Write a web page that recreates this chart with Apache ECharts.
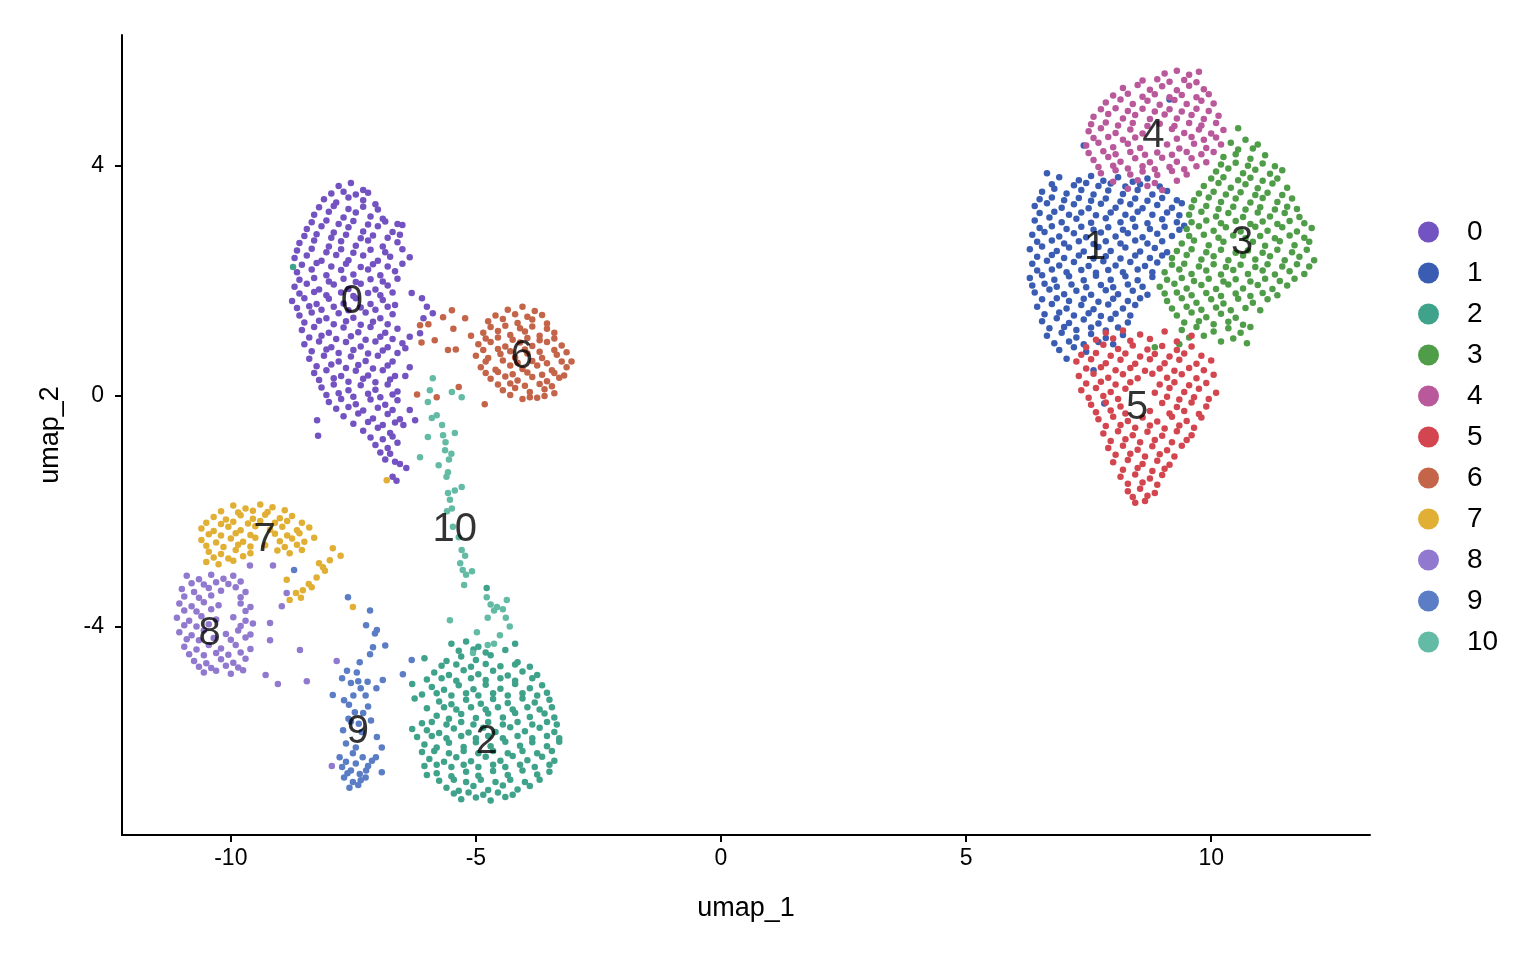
<!DOCTYPE html>
<html>
<head>
<meta charset="utf-8">
<script src="https://cdn.jsdelivr.net/npm/echarts@6/dist/echarts.min.js"></script>
<style>
  html, body { margin: 0; padding: 0; background: #fff; }
  #umap { width: 1536px; height: 960px; }
</style>
</head>
<body>
<div id="umap"></div>
<script>
// cluster names and colours
var clusters = ['0','1','2','3','4','5','6','7','8','9','10'];
var colors = ['#7352C2','#3A5DB3','#3FA28B','#4F9D48','#B9589A','#D3464F','#C4654A','#E0AF34','#9079CF','#5A7DC6','#64BBA5'];

// points (umap_1, umap_2)
var c0 = [
[-7.8,3.65],[-7.55,3.7],[-7.3,3.58],
[-8.1,3.42],[-7.85,3.36],[-7.6,3.45],[-7.3,3.4],[-7.05,3.33],
[-8.3,3.15],[-8.0,3.2],[-7.7,3.1],[-7.45,3.19],[-7.15,3.12],[-6.9,3.08],
[-8.45,2.9],[-8.15,2.95],[-7.9,2.84],[-7.6,2.93],[-7.3,2.86],[-7.0,2.95],[-6.7,2.85],[-6.5,2.97],
[-8.6,2.66],[-8.3,2.7],[-8.0,2.6],[-7.75,2.69],[-7.45,2.61],[-7.2,2.7],[-6.9,2.6],[-6.6,2.67],
[-8.7,2.4],[-8.45,2.44],[-8.15,2.35],[-7.85,2.45],[-7.6,2.36],[-7.3,2.44],[-7.0,2.35],[-6.75,2.42],[-6.35,2.41],
[-8.65,2.15],[-8.35,2.2],[-8.05,2.1],[-7.75,2.19],[-7.5,2.11],[-7.2,2.2],[-6.95,2.1],[-6.65,2.17],
[-8.7,1.9],[-8.45,1.95],[-8.2,1.85],[-7.9,1.94],[-7.6,1.86],[-7.35,1.95],[-7.05,1.85],[-6.8,1.92],
[-8.75,1.65],[-8.5,1.7],[-8.25,1.6],[-8.0,1.69],[-7.7,1.61],[-7.45,1.7],[-7.15,1.6],[-6.9,1.67],[-6.65,1.58],
[-8.6,1.4],[-8.35,1.45],[-8.05,1.35],[-7.8,1.44],[-7.5,1.36],[-7.25,1.45],[-6.95,1.35],[-6.7,1.42],
[-8.55,1.15],[-8.3,1.2],[-8.0,1.1],[-7.7,1.19],[-7.4,1.11],[-7.15,1.2],[-6.85,1.1],[-6.6,1.17],
[-8.5,0.9],[-8.2,0.95],[-7.95,0.85],[-7.65,0.94],[-7.35,0.86],[-7.05,0.95],[-6.8,0.85],[-6.5,0.92],
[-8.4,0.65],[-8.1,0.7],[-7.8,0.6],[-7.55,0.69],[-7.25,0.61],[-7.0,0.7],[-6.7,0.6],
[-8.3,0.4],[-8.05,0.45],[-7.75,0.35],[-7.45,0.44],[-7.2,0.36],[-6.9,0.45],[-6.65,0.35],
[-8.15,0.15],[-7.9,0.2],[-7.6,0.1],[-7.35,0.19],[-7.05,0.11],[-6.8,0.2],[-6.6,0.08],
[-8.0,-0.1],[-7.75,-0.05],[-7.45,-0.14],[-7.15,-0.06],[-6.85,-0.15],[-6.6,-0.07],
[-7.7,-0.35],[-7.4,-0.3],[-7.1,-0.39],[-6.8,-0.31],[-6.55,-0.4],[-8.24,-0.42],
[-7.3,-0.6],[-7.0,-0.55],[-6.75,-0.64],[-8.22,-0.69],
[-7.05,-0.85],[-6.8,-0.9],[-6.6,-0.81],
[-6.85,-1.1],[-6.65,-1.14],[-6.55,-1.18],[-6.42,-1.25],
[-6.7,-1.4],[-6.62,-1.47],
[-6.31,1.79],[-6.1,1.7],[-6.0,1.55],[-5.88,1.44],[-6.07,1.35],[-6.14,1.09],[-6.35,1.03],[-6.44,0.83],
[-6.35,0.5],[-6.44,0.35],[-6.35,-0.24],[-6.24,-0.42],[-6.48,-0.5],
[-7.95,3.52],[-7.7,3.55],[-7.45,3.5],[-7.2,3.53],
[-8.2,3.28],[-7.9,3.3],[-7.6,3.25],[-7.3,3.29],[-7.0,3.24],
[-8.35,3.02],[-8.05,3.05],[-7.8,2.99],[-7.5,3.04],[-7.2,2.98],[-6.85,3.03],[-6.6,2.99],
[-8.5,2.78],[-8.25,2.81],[-7.95,2.75],[-7.65,2.8],[-7.35,2.74],[-7.1,2.79],[-6.8,2.75],[-6.55,2.8],
[-8.65,2.53],[-8.35,2.56],[-8.05,2.5],[-7.75,2.55],[-7.5,2.49],[-7.15,2.54],[-6.85,2.5],[-6.5,2.55],
[-8.55,2.28],[-8.25,2.31],[-7.95,2.25],[-7.65,2.3],[-7.35,2.24],[-7.1,2.29],[-6.8,2.25],[-6.5,2.3],
[-8.6,2.02],[-8.3,2.05],[-8.0,1.99],[-7.7,2.04],[-7.45,1.98],[-7.15,2.03],[-6.9,1.99],[-6.6,2.04],
[-8.6,1.78],[-8.3,1.81],[-8.05,1.75],[-7.75,1.8],[-7.5,1.74],[-7.2,1.79],[-6.95,1.75],[-6.7,1.8],
[-8.65,1.53],[-8.4,1.56],[-8.15,1.5],[-7.9,1.55],[-7.6,1.49],[-7.35,1.54],[-7.05,1.5],[-6.8,1.55],
[-8.5,1.28],[-8.2,1.31],[-7.9,1.25],[-7.65,1.3],[-7.35,1.24],[-7.1,1.29],[-6.8,1.25],
[-8.4,1.02],[-8.15,1.05],[-7.85,0.99],[-7.55,1.04],[-7.25,0.98],[-6.95,1.03],[-6.7,0.99],
[-8.35,0.78],[-8.05,0.81],[-7.8,0.75],[-7.5,0.8],[-7.2,0.74],[-6.9,0.79],[-6.6,0.75],
[-8.25,0.52],[-7.95,0.55],[-7.65,0.49],[-7.4,0.54],[-7.1,0.48],[-6.8,0.53],
[-8.2,0.28],[-7.9,0.31],[-7.6,0.25],[-7.3,0.3],[-7.05,0.24],[-6.75,0.29],
[-8.05,0.02],[-7.8,0.05],[-7.5,-0.01],[-7.2,0.04],[-6.95,-0.02],[-6.7,0.03],
[-7.85,-0.22],[-7.6,-0.19],[-7.3,-0.25],[-7.0,-0.2],[-6.7,-0.24],
[-7.5,-0.48],[-7.2,-0.45],[-6.9,-0.5],[-6.65,-0.46],
[-7.15,-0.72],[-6.9,-0.75],[-6.7,-0.7],
[-6.95,-0.98],[-6.75,-1.0]
];
var c6 = [
[-4.35,1.5],[-4.05,1.55],[-3.8,1.48],
[-4.75,1.3],[-4.45,1.34],[-4.15,1.27],[-3.85,1.33],[-3.55,1.26],
[-4.85,1.1],[-4.55,1.13],[-4.3,1.06],[-4.0,1.12],[-3.7,1.05],[-3.4,1.1],
[-4.95,0.9],[-4.7,0.94],[-4.4,0.86],[-4.1,0.93],[-3.85,0.87],[-3.55,0.94],[-3.25,0.88],
[-5.0,0.7],[-4.75,0.66],[-4.5,0.73],[-4.2,0.67],[-3.95,0.74],[-3.65,0.66],[-3.35,0.72],[-3.05,0.6],
[-4.9,0.5],[-4.6,0.46],[-4.3,0.53],[-4.05,0.47],[-3.75,0.53],[-3.45,0.45],[-3.15,0.5],
[-4.7,0.3],[-4.4,0.34],[-4.15,0.27],[-3.85,0.33],[-3.55,0.26],[-3.3,0.32],
[-4.45,0.1],[-4.2,0.14],[-3.9,0.07],[-3.6,0.12],[-3.4,0.05],
[-4.05,-0.05],[-3.75,-0.03],
[-6.14,1.23],[-5.97,1.25],[-5.67,1.37],[-5.49,1.49],[-5.46,1.17],[-5.84,0.97],[-6.11,0.93],
[-5.57,0.8],[-5.41,0.81],[-5.22,1.35],[-6.2,0.03],[-5.8,-0.02],[-5.35,0.16],[-4.82,-0.14],[-5.1,1.05],
[-4.6,1.4],[-4.2,1.42],[-3.95,1.38],[-3.65,1.41],
[-4.7,1.2],[-4.4,1.22],[-4.1,1.18],[-3.85,1.21],[-3.55,1.17],
[-4.8,1.0],[-4.55,1.02],[-4.25,0.98],[-3.95,1.01],[-3.7,0.97],[-3.4,1.0],
[-4.85,0.8],[-4.55,0.82],[-4.3,0.78],[-4.0,0.81],[-3.7,0.77],[-3.4,0.8],[-3.15,0.76],
[-4.8,0.6],[-4.45,0.62],[-4.15,0.58],[-3.85,0.61],[-3.55,0.57],[-3.25,0.6],
[-4.8,0.4],[-4.55,0.42],[-4.25,0.38],[-3.95,0.41],[-3.65,0.37],[-3.4,0.4],[-3.2,0.36],
[-4.55,0.2],[-4.3,0.22],[-4.0,0.18],[-3.7,0.21],[-3.45,0.17],
[-4.3,0.02],[-3.9,-0.02],[-3.6,0.0]
];
var c10 = [
[-5.88,0.31],[-5.94,0.1],[-5.98,-0.1],[-5.49,0.07],[-5.29,-0.02],[-5.8,-0.33],[-5.9,-0.38],
[-5.69,-0.5],[-5.98,-0.71],[-5.67,-0.68],[-5.43,-0.64],[-5.63,-0.94],[-5.5,-1.0],[-6.14,-1.06],
[-5.76,-1.2],[-5.57,-1.32],[-5.6,-1.4],[-5.57,-1.68],[-5.43,-1.64],[-5.29,-1.58],[-5.53,-1.8],
[-5.49,-1.95],[-5.59,-2.0],[-5.47,-2.27],[-5.35,-2.45],[-5.29,-2.67],[-5.22,-2.77],[-5.27,-3.02],
[-5.2,-3.1],[-5.24,-3.28],[-5.08,-3.04],[-4.78,-3.49],[-4.37,-3.54],[-4.57,-3.66],[-4.63,-3.72],
[-4.76,-3.85],[-4.39,-3.85],[-4.31,-4.0],[-4.51,-4.15],[-4.76,-4.32],[-5.53,-3.89],[-4.98,-4.1],
[-4.63,-4.3],[-5.06,-4.46],[-4.45,-3.7],[-5.62,-0.8],[-5.55,-1.1],[-5.32,-2.9],[-4.7,-3.62]
];
var c2 = [
[-4.78,-3.33],[-8.73,2.24],
[-5.5,-4.3],[-5.2,-4.26],[-4.95,-4.35],[-4.2,-4.3],
[-6.05,-4.55],[-5.6,-4.6],[-5.3,-4.52],[-5.0,-4.58],[-4.7,-4.5],[-4.15,-4.62],
[-5.85,-4.8],[-5.55,-4.84],[-5.25,-4.76],[-4.95,-4.83],[-4.65,-4.77],[-4.35,-4.85],[-4.05,-4.78],[-3.75,-4.84],
[-6.3,-5.0],[-5.9,-5.05],[-5.65,-5.1],[-5.35,-5.02],[-5.05,-5.09],[-4.8,-5.01],[-4.5,-5.08],[-4.2,-5.0],[-3.9,-5.07],[-3.65,-5.02],
[-6.25,-5.25],[-5.75,-5.3],[-5.5,-5.35],[-5.2,-5.27],[-4.9,-5.34],[-4.65,-5.26],[-4.35,-5.33],[-4.05,-5.25],[-3.8,-5.32],[-3.5,-5.27],
[-5.8,-5.55],[-5.55,-5.6],[-5.3,-5.52],[-5.0,-5.59],[-4.75,-5.51],[-4.45,-5.58],[-4.2,-5.5],[-3.9,-5.57],[-3.6,-5.51],[-3.4,-5.58],
[-6.3,-5.78],[-6.0,-5.8],[-5.75,-5.85],[-5.45,-5.77],[-5.15,-5.84],[-4.85,-5.76],[-4.6,-5.83],[-4.3,-5.75],[-4.0,-5.82],[-3.7,-5.76],[-3.4,-5.83],
[-6.05,-6.05],[-5.8,-6.1],[-5.55,-6.02],[-5.25,-6.09],[-5.0,-6.01],[-4.7,-6.08],[-4.4,-6.0],[-4.1,-6.07],[-3.85,-6.01],[-3.55,-6.08],[-3.3,-6.0],
[-5.95,-6.3],[-5.65,-6.35],[-5.4,-6.27],[-5.1,-6.34],[-4.8,-6.26],[-4.5,-6.33],[-4.25,-6.25],[-3.95,-6.32],[-3.65,-6.26],[-3.4,-6.33],
[-6.0,-6.58],[-5.8,-6.55],[-5.5,-6.6],[-5.2,-6.52],[-4.95,-6.59],[-4.65,-6.51],[-4.35,-6.58],[-4.05,-6.5],[-3.75,-6.57],[-3.5,-6.52],
[-5.6,-6.8],[-5.35,-6.85],[-5.05,-6.77],[-4.75,-6.84],[-4.45,-6.76],[-4.15,-6.83],[-3.9,-6.77],
[-5.3,-7.0],[-5.0,-6.97],[-4.7,-7.02],[-4.4,-6.96],
[-5.35,-4.42],[-5.05,-4.4],[-4.8,-4.45],[-4.4,-4.41],
[-5.7,-4.68],[-5.4,-4.66],[-5.1,-4.7],[-4.8,-4.65],[-4.5,-4.69],[-4.2,-4.66],[-3.9,-4.7],
[-6.0,-4.92],[-5.7,-4.9],[-5.4,-4.94],[-5.1,-4.9],[-4.8,-4.93],[-4.5,-4.9],[-4.2,-4.94],[-3.85,-4.9],
[-6.1,-5.18],[-5.8,-5.16],[-5.5,-5.2],[-5.2,-5.16],[-4.95,-5.2],[-4.65,-5.16],[-4.35,-5.2],[-4.05,-5.16],[-3.75,-5.2],[-3.55,-5.15],
[-6.0,-5.42],[-5.65,-5.4],[-5.4,-5.44],[-5.1,-5.4],[-4.8,-5.44],[-4.55,-5.4],[-4.25,-5.44],[-3.95,-5.4],[-3.7,-5.44],[-3.45,-5.4],
[-6.1,-5.68],[-5.9,-5.66],[-5.6,-5.7],[-5.3,-5.66],[-5.05,-5.7],[-4.75,-5.66],[-4.45,-5.7],[-4.15,-5.66],[-3.85,-5.7],[-3.55,-5.66],[-3.35,-5.7],
[-6.2,-5.92],[-5.9,-5.9],[-5.6,-5.94],[-5.3,-5.9],[-5.0,-5.94],[-4.75,-5.9],[-4.45,-5.94],[-4.15,-5.9],[-3.85,-5.94],[-3.55,-5.9],[-3.3,-5.94],
[-6.1,-6.18],[-5.85,-6.16],[-5.55,-6.2],[-5.25,-6.16],[-4.95,-6.2],[-4.65,-6.16],[-4.35,-6.2],[-4.05,-6.16],[-3.75,-6.2],[-3.45,-6.16],
[-6.05,-6.42],[-5.8,-6.4],[-5.5,-6.44],[-5.25,-6.4],[-4.95,-6.44],[-4.65,-6.4],[-4.4,-6.44],[-4.1,-6.4],[-3.8,-6.44],[-3.5,-6.4],
[-5.75,-6.68],[-5.45,-6.66],[-5.2,-6.7],[-4.9,-6.66],[-4.6,-6.7],[-4.3,-6.66],[-4.0,-6.7],[-3.7,-6.66],
[-5.45,-6.9],[-5.15,-6.88],[-4.85,-6.92],[-4.55,-6.88],[-4.25,-6.92]
];
var c9 = [
[-7.61,-3.49],[-7.16,-3.72],[-7.02,-4.06],[-7.24,-3.98],[-7.06,-4.12],[-7.1,-4.36],[-6.85,-4.33],
[-7.16,-4.48],[-7.37,-4.62],[-7.43,-4.8],[-7.63,-4.77],[-7.73,-4.9],[-7.55,-4.98],[-7.35,-5.07],
[-7.21,-4.96],[-6.9,-4.93],[-7.03,-5.07],[-7.92,-5.19],[-7.69,-5.28],[-7.59,-5.36],[-7.47,-5.49],
[-7.2,-5.39],[-7.14,-5.63],[-7.71,-5.8],[-7.39,-5.69],[-7.33,-5.83],[-7.02,-5.92],[-6.92,-6.1],
[-7.65,-6.03],[-7.78,-6.27],[-7.51,-6.2],[-7.31,-6.27],[-7.12,-6.33],[-7.04,-6.27],[-7.73,-6.44],
[-7.55,-6.5],[-7.37,-6.56],[-7.24,-6.5],[-7.69,-6.62],[-7.51,-6.7],[-7.35,-6.67],[-6.92,-6.53],
[-6.31,-4.58],[-6.49,-4.83],[-8.71,-3.02],[-7.45,-6.1],[-7.6,-5.6],
[-7.62,-6.55],[-7.45,-6.38],[-7.2,-6.42],[-7.58,-6.8],[-7.4,-6.75],[-7.25,-6.62],[-7.65,-6.35],
[-7.3,-5.5],[-7.5,-5.2],[-7.25,-5.2],[-7.4,-4.95],[-7.55,-5.65]
];
var c8 = [
[-10.9,-3.12],[-10.65,-3.18],[-10.4,-3.1],[-10.15,-3.17],[-9.95,-3.12],
[-11.0,-3.35],[-10.75,-3.4],[-10.45,-3.33],[-10.2,-3.38],[-9.9,-3.32],[-9.7,-3.4],
[-11.05,-3.6],[-10.8,-3.65],[-10.55,-3.58],[-10.25,-3.63],[-9.8,-3.6],[-9.6,-3.66],
[-11.1,-3.85],[-10.85,-3.9],[-10.6,-3.82],[-10.3,-3.88],[-9.95,-3.84],[-9.7,-3.9],
[-11.05,-4.1],[-10.8,-4.15],[-10.55,-4.07],[-10.1,-4.13],[-9.85,-4.07],[-9.6,-4.14],
[-10.95,-4.35],[-10.7,-4.4],[-10.45,-4.32],[-10.2,-4.38],[-9.9,-4.32],[-9.6,-4.39],
[-10.75,-4.6],[-10.5,-4.64],[-10.2,-4.57],[-9.95,-4.63],[-9.7,-4.56],
[-10.55,-4.8],[-10.3,-4.77],[-10.0,-4.82],[-9.75,-4.76],
[-9.61,-2.94],[-9.14,-2.94],[-9.2,-3.94],[-9.2,-4.24],[-8.86,-3.42],[-8.96,-3.65],
[-8.59,-4.41],[-9.29,-4.84],[-9.04,-5.0],[-8.45,-4.95],[-7.84,-4.6],[-7.94,-6.42],
[-10.8,-3.25],[-10.55,-3.27],[-10.3,-3.23],[-10.05,-3.26],[-9.8,-3.22],
[-10.95,-3.48],[-10.65,-3.5],[-10.4,-3.46],[-9.8,-3.49],
[-10.95,-3.72],[-10.7,-3.74],[-10.4,-3.7],[-9.7,-3.73],
[-10.95,-3.98],[-10.7,-4.0],[-10.45,-3.96],[-9.8,-3.99],[-9.55,-3.95],
[-10.9,-4.22],[-10.65,-4.24],[-10.35,-4.2],[-10.0,-4.23],[-9.7,-4.19],
[-10.85,-4.48],[-10.55,-4.5],[-10.3,-4.46],[-10.05,-4.49],[-9.8,-4.45],
[-10.65,-4.7],[-10.4,-4.72],[-10.1,-4.68],[-9.85,-4.71]
];
var c7 = [
[-9.95,-1.9],[-9.7,-1.95],[-9.4,-1.88],[-9.15,-1.93],
[-10.35,-2.1],[-10.1,-2.14],[-9.8,-2.07],[-9.55,-2.13],[-9.3,-2.06],[-9.0,-2.12],[-8.75,-2.08],
[-10.6,-2.3],[-10.35,-2.34],[-10.05,-2.27],[-9.8,-2.33],[-9.5,-2.26],[-9.2,-2.32],[-8.95,-2.27],[-8.65,-2.33],[-8.4,-2.28],
[-10.6,-2.5],[-10.3,-2.54],[-10.0,-2.47],[-9.75,-2.53],[-9.5,-2.46],[-9.0,-2.52],[-8.75,-2.47],[-8.5,-2.53],[-8.3,-2.46],
[-10.45,-2.7],[-10.2,-2.74],[-9.9,-2.67],[-9.6,-2.73],[-9.05,-2.68],[-8.8,-2.73],[-8.55,-2.67],
[-10.5,-2.88],[-10.25,-2.92],[-9.95,-2.86],
[-7.92,-2.64],[-7.76,-2.77],[-8.12,-2.97],[-8.25,-3.15],[-8.41,-3.26],[-8.53,-3.37],[-8.67,-3.42],
[-8.8,-3.54],[-8.57,-3.5],[-8.35,-3.32],[-8.08,-3.03],[-8.86,-3.19],[-7.51,-3.66],[-7.98,-2.85],
[-8.2,-2.9],[-6.82,-1.46],
[-10.2,-2.0],[-9.85,-2.02],[-9.55,-1.99],[-9.25,-2.01],[-8.9,-1.98],
[-10.5,-2.2],[-10.2,-2.22],[-9.95,-2.18],[-9.65,-2.21],[-9.4,-2.17],[-9.1,-2.2],[-8.85,-2.17],[-8.55,-2.2],
[-10.45,-2.4],[-10.2,-2.42],[-9.9,-2.38],[-9.6,-2.41],[-9.1,-2.39],[-8.85,-2.42],[-8.6,-2.38],
[-10.5,-2.6],[-10.15,-2.62],[-9.85,-2.58],[-9.6,-2.61],[-9.3,-2.59],[-8.9,-2.62],[-8.65,-2.58],
[-10.35,-2.8],[-10.05,-2.82],[-9.75,-2.78]
];
var c1 = [
[6.65,3.87],[6.9,3.8],[7.3,3.75],[7.55,3.82],[7.8,3.74],[8.1,3.8],[8.4,3.72],[8.7,3.78],
[6.55,3.55],[6.8,3.6],[7.05,3.52],[7.35,3.58],[7.6,3.5],[7.9,3.57],[8.2,3.51],[8.5,3.58],[8.8,3.5],[9.1,3.56],
[6.4,3.3],[6.65,3.35],[6.95,3.27],[7.2,3.33],[7.5,3.26],[7.75,3.34],[8.05,3.27],[8.35,3.33],[8.6,3.26],[8.9,3.32],[9.2,3.27],[9.4,3.35],
[6.4,3.05],[6.7,3.1],[6.95,3.02],[7.25,3.08],[7.55,3.01],[7.85,3.09],[8.15,3.02],[8.4,3.08],[8.7,3.0],[9.0,3.07],[9.3,3.02],[9.45,2.96],
[6.35,2.8],[6.6,2.85],[6.9,2.77],[7.2,2.83],[7.45,2.76],[7.75,2.84],[8.05,2.77],[8.3,2.83],[8.6,2.76],[8.9,2.82],[9.2,2.78],
[6.3,2.55],[6.55,2.6],[6.85,2.52],[7.1,2.58],[7.4,2.51],[7.7,2.59],[7.95,2.52],[8.25,2.58],[8.55,2.51],[8.85,2.57],[9.1,2.5],
[6.35,2.3],[6.65,2.35],[6.9,2.27],[7.2,2.33],[7.5,2.26],[7.8,2.34],[8.05,2.27],[8.35,2.33],[8.65,2.26],[8.9,2.32],
[6.3,2.05],[6.55,2.1],[6.8,2.02],[7.1,2.08],[7.4,2.01],[7.65,2.09],[7.95,2.02],[8.25,2.08],[8.5,2.01],[8.8,2.07],
[6.4,1.8],[6.7,1.85],[7.0,1.77],[7.25,1.83],[7.55,1.76],[7.85,1.84],[8.1,1.77],[8.4,1.83],[8.7,1.76],
[6.45,1.55],[6.75,1.6],[7.05,1.52],[7.35,1.58],[7.6,1.51],[7.9,1.59],[8.2,1.52],[8.45,1.58],
[6.55,1.3],[6.85,1.35],[7.1,1.27],[7.4,1.33],[7.7,1.26],[7.95,1.34],[8.3,1.28],
[6.65,1.05],[6.95,1.1],[7.25,1.02],[7.55,1.08],[7.85,1.01],[8.2,1.06],
[6.9,0.8],[7.2,0.85],[7.45,0.77],[7.05,0.65],[7.6,0.45],[7.82,-0.13],[7.4,4.35],[9.15,5.15],
[6.75,3.68],[7.2,3.66],[7.45,3.7],[7.7,3.65],[7.95,3.69],[8.25,3.64],[8.55,3.68],[8.95,3.64],
[6.5,3.42],[6.75,3.45],[7.0,3.4],[7.3,3.44],[7.55,3.39],[7.85,3.43],[8.15,3.38],[8.45,3.43],[8.7,3.39],[9.0,3.44],[9.3,3.4],
[6.5,3.18],[6.8,3.2],[7.1,3.15],[7.35,3.19],[7.65,3.14],[7.95,3.19],[8.25,3.15],[8.5,3.2],[8.8,3.15],[9.1,3.19],[9.35,3.14],
[6.5,2.92],[6.75,2.95],[7.05,2.9],[7.35,2.94],[7.6,2.89],[7.9,2.93],[8.2,2.89],[8.45,2.94],[8.75,2.9],[9.05,2.94],[9.35,2.89],
[6.45,2.68],[6.75,2.7],[7.0,2.65],[7.3,2.69],[7.6,2.64],[7.85,2.69],[8.15,2.65],[8.45,2.7],[8.7,2.65],[9.0,2.69],
[6.45,2.42],[6.75,2.45],[7.0,2.4],[7.3,2.44],[7.6,2.39],[7.85,2.43],[8.15,2.39],[8.45,2.44],[8.75,2.4],[9.0,2.44],
[6.45,2.18],[6.75,2.2],[7.05,2.15],[7.35,2.19],[7.65,2.14],[7.9,2.19],[8.2,2.15],[8.5,2.2],[8.8,2.15],
[6.35,1.92],[6.6,1.95],[6.85,1.9],[7.15,1.94],[7.45,1.89],[7.75,1.93],[8.0,1.89],[8.3,1.94],[8.6,1.9],
[6.55,1.68],[6.85,1.7],[7.1,1.65],[7.4,1.69],[7.7,1.64],[8.0,1.69],[8.3,1.65],[8.55,1.7],
[6.6,1.42],[6.9,1.45],[7.2,1.4],[7.5,1.44],[7.75,1.39],[8.05,1.43],[8.35,1.4],
[6.7,1.18],[7.0,1.2],[7.25,1.15],[7.55,1.19],[7.85,1.14],[8.1,1.19],
[6.8,0.92],[7.1,0.95],[7.4,0.9],[7.7,0.94],[8.0,0.9]
];
var c4 = [
[9.05,5.6],[9.3,5.65],[9.55,5.58],[9.75,5.63],
[8.2,5.35],[8.5,5.4],[8.75,5.32],[9.0,5.38],[9.3,5.31],[9.55,5.39],[9.85,5.33],
[7.85,5.1],[8.15,5.15],[8.4,5.07],[8.7,5.13],[8.95,5.06],[9.25,5.14],[9.5,5.07],[9.8,5.13],[10.05,5.08],
[7.6,4.85],[7.9,4.9],[8.2,4.82],[8.45,4.88],[8.75,4.81],[9.05,4.89],[9.3,4.82],[9.6,4.88],[9.85,4.81],[10.15,4.87],
[7.5,4.6],[7.75,4.65],[8.05,4.57],[8.35,4.63],[8.6,4.56],[9.2,4.64],[9.45,4.57],[9.75,4.63],[10.0,4.56],[10.25,4.62],
[7.45,4.35],[7.7,4.4],[8.0,4.32],[8.3,4.38],[8.55,4.31],[9.1,4.37],[9.35,4.3],[9.65,4.38],[9.9,4.31],[10.2,4.37],
[7.6,4.1],[7.9,4.15],[8.15,4.07],[8.45,4.13],[8.75,4.06],[9.0,4.14],[9.3,4.07],[9.6,4.13],[9.9,4.06],
[7.75,3.87],[8.05,3.92],[8.35,3.85],[8.6,3.9],[8.9,3.84],[9.2,3.91],[9.5,3.85],
[8.3,3.6],[8.7,3.65],[9.0,3.58],
[8.6,5.48],[8.9,5.5],[9.15,5.46],[9.45,5.49],[9.7,5.45],
[8.0,5.22],[8.3,5.25],[8.6,5.2],[8.85,5.24],[9.15,5.19],[9.4,5.23],[9.7,5.19],[9.95,5.24],
[7.75,4.98],[8.05,5.0],[8.3,4.95],[8.6,4.99],[8.85,4.94],[9.15,4.98],[9.4,4.94],[9.7,4.99],[9.95,4.95],
[7.55,4.72],[7.85,4.75],[8.1,4.7],[8.4,4.74],[8.7,4.69],[8.95,4.73],[9.25,4.69],[9.55,4.74],[9.8,4.7],[10.1,4.74],
[7.6,4.48],[7.9,4.5],[8.2,4.45],[8.45,4.49],[9.3,4.47],[9.6,4.5],[9.85,4.45],[10.1,4.49],
[7.5,4.22],[7.8,4.25],[8.05,4.2],[8.35,4.24],[8.65,4.19],[8.9,4.23],[9.2,4.19],[9.5,4.24],[9.8,4.2],[10.05,4.24],
[7.7,3.98],[8.0,4.0],[8.3,3.95],[8.6,3.99],[8.85,3.94],[9.15,3.98],[9.45,3.94],[9.7,3.99],
[8.0,3.72],[8.5,3.75],[8.85,3.7],[9.3,3.74]
];
var c3 = [
[10.55,4.65],
[10.4,4.4],[10.7,4.45],[10.95,4.37],
[10.25,4.15],[10.5,4.2],[10.8,4.12],[11.1,4.18],
[10.1,3.9],[10.35,3.95],[10.65,3.87],[10.9,3.93],[11.2,3.86],[11.45,3.92],
[9.85,3.65],[10.15,3.7],[10.4,3.62],[10.7,3.68],[10.95,3.61],[11.25,3.69],[11.55,3.62],
[9.65,3.4],[9.95,3.45],[10.2,3.37],[10.5,3.43],[10.8,3.36],[11.05,3.44],[11.35,3.37],[11.65,3.43],
[9.55,3.15],[9.8,3.2],[10.1,3.12],[10.35,3.18],[10.65,3.11],[10.95,3.19],[11.2,3.12],[11.5,3.18],[11.8,3.11],
[9.5,2.9],[9.75,2.95],[10.05,2.87],[10.3,2.93],[10.6,2.86],[10.9,2.94],[11.15,2.87],[11.45,2.93],[11.75,2.86],[12.05,2.92],
[9.4,2.65],[9.65,2.7],[9.95,2.62],[10.25,2.68],[10.85,2.68],[11.1,2.61],[11.4,2.69],[11.7,2.62],[12.0,2.68],
[9.2,2.4],[9.5,2.45],[9.8,2.37],[10.05,2.43],[10.35,2.36],[10.65,2.44],[10.9,2.37],[11.2,2.43],[11.5,2.36],[11.8,2.42],[12.1,2.36],
[9.05,2.15],[9.35,2.2],[9.6,2.12],[9.9,2.18],[10.2,2.11],[10.45,2.19],[10.75,2.12],[11.05,2.18],[11.3,2.11],[11.6,2.17],[11.9,2.12],
[8.95,1.9],[9.25,1.95],[9.5,1.87],[9.8,1.93],[10.1,1.86],[10.35,1.94],[10.65,1.87],[10.95,1.93],[11.25,1.86],[11.55,1.92],
[9.1,1.65],[9.4,1.7],[9.7,1.62],[10.0,1.68],[10.25,1.61],[10.55,1.69],[10.85,1.62],[11.15,1.68],
[9.3,1.4],[9.6,1.45],[9.9,1.37],[10.2,1.43],[10.5,1.36],[10.8,1.2],
[9.4,1.15],[9.7,1.2],[10.05,1.12],[10.35,1.18],[10.6,1.1],
[9.35,0.9],[10.2,0.95],[10.73,0.92],[8.85,0.85],
[10.55,4.28],[10.85,4.3],
[10.2,4.02],[10.5,4.05],[10.75,4.0],[11.05,4.04],[11.3,3.99],
[10.0,3.78],[10.25,3.8],[10.55,3.75],[10.8,3.79],[11.05,3.74],[11.35,3.78],
[9.75,3.52],[10.05,3.55],[10.3,3.5],[10.6,3.54],[10.9,3.49],[11.15,3.53],[11.45,3.49],
[9.6,3.28],[9.9,3.3],[10.15,3.25],[10.45,3.29],[10.7,3.24],[11.0,3.28],[11.3,3.24],[11.55,3.29],[11.75,3.25],
[9.6,3.02],[9.9,3.05],[10.2,3.0],[10.5,3.04],[10.8,2.99],[11.05,3.03],[11.35,2.99],[11.6,3.04],[11.9,3.0],
[9.55,2.78],[9.85,2.8],[10.15,2.75],[10.45,2.79],[10.7,2.74],[11.0,2.78],[11.3,2.74],[11.6,2.79],[11.9,2.75],
[9.3,2.52],[9.6,2.55],[9.9,2.5],[10.2,2.54],[10.5,2.49],[10.75,2.53],[11.05,2.49],[11.35,2.54],[11.65,2.5],[11.95,2.54],
[9.2,2.28],[9.45,2.3],[9.75,2.25],[10.05,2.29],[10.3,2.24],[10.6,2.28],[10.9,2.24],[11.15,2.29],[11.45,2.25],[11.75,2.29],[12.0,2.25],
[9.1,2.02],[9.4,2.05],[9.65,2.0],[9.95,2.04],[10.25,1.99],[10.5,2.03],[10.8,1.99],[11.1,2.04],[11.4,2.0],[11.7,2.04],
[9.05,1.78],[9.3,1.8],[9.6,1.75],[9.9,1.79],[10.2,1.74],[10.5,1.78],[10.8,1.74],[11.05,1.79],[11.35,1.75],
[9.2,1.52],[9.5,1.55],[9.8,1.5],[10.1,1.54],[10.4,1.49],[10.7,1.53],[11.0,1.49],
[9.45,1.28],[9.75,1.3],[10.05,1.25],[10.35,1.29],[10.65,1.24],
[9.55,1.02],[9.85,1.05],[10.45,1.0]
];
var c5 = [
[7.85,1.1],[8.2,1.14],[8.55,1.07],[9.05,1.12],[9.6,1.05],
[7.45,0.85],[7.8,0.89],[8.1,0.82],[8.4,0.88],[8.7,0.81],[9.0,0.87],[9.3,0.8],[9.6,0.86],
[7.25,0.6],[7.55,0.64],[7.85,0.57],[8.15,0.63],[8.45,0.56],[8.75,0.64],[9.05,0.57],[9.35,0.63],[9.7,0.56],[10.0,0.62],
[7.3,0.35],[7.6,0.39],[7.9,0.32],[8.2,0.38],[8.5,0.31],[8.8,0.39],[9.1,0.32],[9.4,0.38],[9.7,0.31],[10.05,0.37],
[7.35,0.1],[7.65,0.14],[7.95,0.07],[8.25,0.13],[8.85,0.06],[9.15,0.14],[9.45,0.07],[9.75,0.13],[10.1,0.06],
[7.55,-0.15],[7.85,-0.11],[8.15,-0.18],[9.0,-0.12],[9.3,-0.19],[9.6,-0.11],[9.9,-0.18],
[7.7,-0.4],[8.0,-0.36],[8.3,-0.43],[8.6,-0.37],[8.9,-0.44],[9.2,-0.36],[9.5,-0.43],[9.8,-0.37],
[7.8,-0.65],[8.1,-0.61],[8.4,-0.68],[8.7,-0.62],[9.0,-0.69],[9.3,-0.61],[9.6,-0.68],
[7.9,-0.9],[8.2,-0.86],[8.5,-0.93],[8.8,-0.87],[9.1,-0.94],[9.4,-0.86],
[8.0,-1.15],[8.3,-1.11],[8.6,-1.18],[8.9,-1.12],[9.15,-1.19],
[8.15,-1.4],[8.45,-1.36],[8.75,-1.43],[9.0,-1.37],
[8.3,-1.65],[8.55,-1.61],[8.85,-1.68],
[8.45,-1.85],[8.65,-1.82],
[7.65,0.98],[8.0,1.0],[8.35,0.96],[8.75,0.99],[9.3,0.95],
[7.35,0.72],[7.65,0.75],[7.95,0.7],[8.25,0.74],[8.55,0.69],[8.85,0.73],[9.15,0.69],[9.45,0.74],[9.8,0.7],
[7.45,0.48],[7.75,0.5],[8.05,0.45],[8.35,0.49],[8.65,0.44],[8.95,0.48],[9.25,0.44],[9.55,0.49],[9.85,0.45],
[7.45,0.22],[7.75,0.25],[8.05,0.2],[8.35,0.24],[8.95,0.2],[9.25,0.24],[9.55,0.19],[9.9,0.23],
[7.5,-0.03],[7.8,0.0],[8.1,-0.05],[9.1,-0.01],[9.35,-0.06],[9.65,-0.02],[9.95,-0.05],
[7.65,-0.28],[7.95,-0.25],[8.25,-0.3],[8.75,-0.26],[9.15,-0.3],[9.45,-0.26],[9.75,-0.31],
[7.85,-0.52],[8.15,-0.5],[8.45,-0.55],[8.75,-0.51],[9.05,-0.56],[9.35,-0.51],[9.65,-0.55],
[7.95,-0.78],[8.25,-0.75],[8.55,-0.8],[8.85,-0.76],[9.2,-0.8],[9.5,-0.76],
[8.05,-1.02],[8.35,-1.0],[8.65,-1.05],[8.95,-1.01],[9.25,-1.05],
[8.2,-1.28],[8.5,-1.25],[8.8,-1.3],[9.05,-1.26],
[8.3,-1.52],[8.6,-1.5],[8.9,-1.54],
[8.4,-1.75],[8.7,-1.73]
];

// where the cluster numbers sit
var labelPos = [
[-7.53,1.63],[7.63,2.57],[-4.78,-6.0],[10.63,2.66],[8.82,4.51],[8.49,-0.21],
[-4.06,0.68],[-9.31,-2.5],[-10.43,-4.13],[-7.41,-5.83],[-5.43,-2.33]
];
var xTicks = [-10,-5,0,5,10];
var yTicks = [-4,0,4];

var pts = [c0,c1,c2,c3,c4,c5,c6,c7,c8,c9,c10];
var font = 'Liberation Sans, Arial, Helvetica, sans-serif';

var chartDom = document.getElementById('umap');
var myChart = echarts.init(chartDom);

var series = [];
// big clusters first so the small ones stay visible
var order = [1,3,4,5,0,2,6,7,8,9,10];
order.forEach(function(i){
  series.push({
    name: clusters[i],
    type: 'scatter',
    data: pts[i],
    symbolSize: 6.5,
    itemStyle: { color: colors[i], opacity: 1 },
    emphasis: { disabled: true }
  });
});
series.push({
  name: 'labels',
  type: 'scatter',
  silent: true,
  symbolSize: 0,
  data: labelPos.map(function(p, i){ return { value: p, name: clusters[i] }; }),
  label: {
    show: true,
    position: 'inside',
    formatter: '{b}',
    color: '#000',
    textBorderWidth: 0,
    fontSize: 40,
    fontFamily: font
  },
  z: 10
});

var option = {
  animation: false,
  backgroundColor: '#fff',
  color: colors,
  grid: { left: 122, right: 166, top: 35, bottom: 125 },
  legend: {
    data: clusters.map(function(c, i){ return { name: c, icon: 'circle', itemStyle: { color: colors[i] } }; }),
    orient: 'vertical',
    left: 1413,
    top: 213,
    itemWidth: 21,
    itemHeight: 21,
    itemGap: 13,
    selectedMode: false,
    textStyle: { fontSize: 28, color: '#000', fontFamily: font, padding: [0, 0, 0, 23] }
  },
  xAxis: {
    type: 'value',
    min: -12.22,
    max: 13.24,
    name: 'umap_1',
    nameLocation: 'middle',
    nameGap: 60,
    nameTextStyle: { fontSize: 27, color: '#000', fontFamily: font },
    axisLine: { onZero: false, lineStyle: { color: '#000', width: 2 } },
    axisTick: { show: true, length: 7, lineStyle: { color: '#000', width: 2 }, customValues: xTicks },
    axisLabel: { fontSize: 23, color: '#000', margin: 12, fontFamily: font, customValues: xTicks },
    splitLine: { show: false }
  },
  yAxis: {
    type: 'value',
    min: -7.62,
    max: 6.27,
    name: 'umap_2',
    nameLocation: 'middle',
    nameGap: 58,
    nameRotate: 90,
    nameTextStyle: { fontSize: 27, color: '#000', fontFamily: font },
    axisLine: { show: true, onZero: false, lineStyle: { color: '#000', width: 2 } },
    axisTick: { show: true, length: 7, lineStyle: { color: '#000', width: 2 }, customValues: yTicks },
    axisLabel: { fontSize: 23, color: '#000', margin: 18, fontFamily: font, customValues: yTicks },
    splitLine: { show: false }
  },
  series: series
};

option && myChart.setOption(option);
</script>
</body>
</html>
